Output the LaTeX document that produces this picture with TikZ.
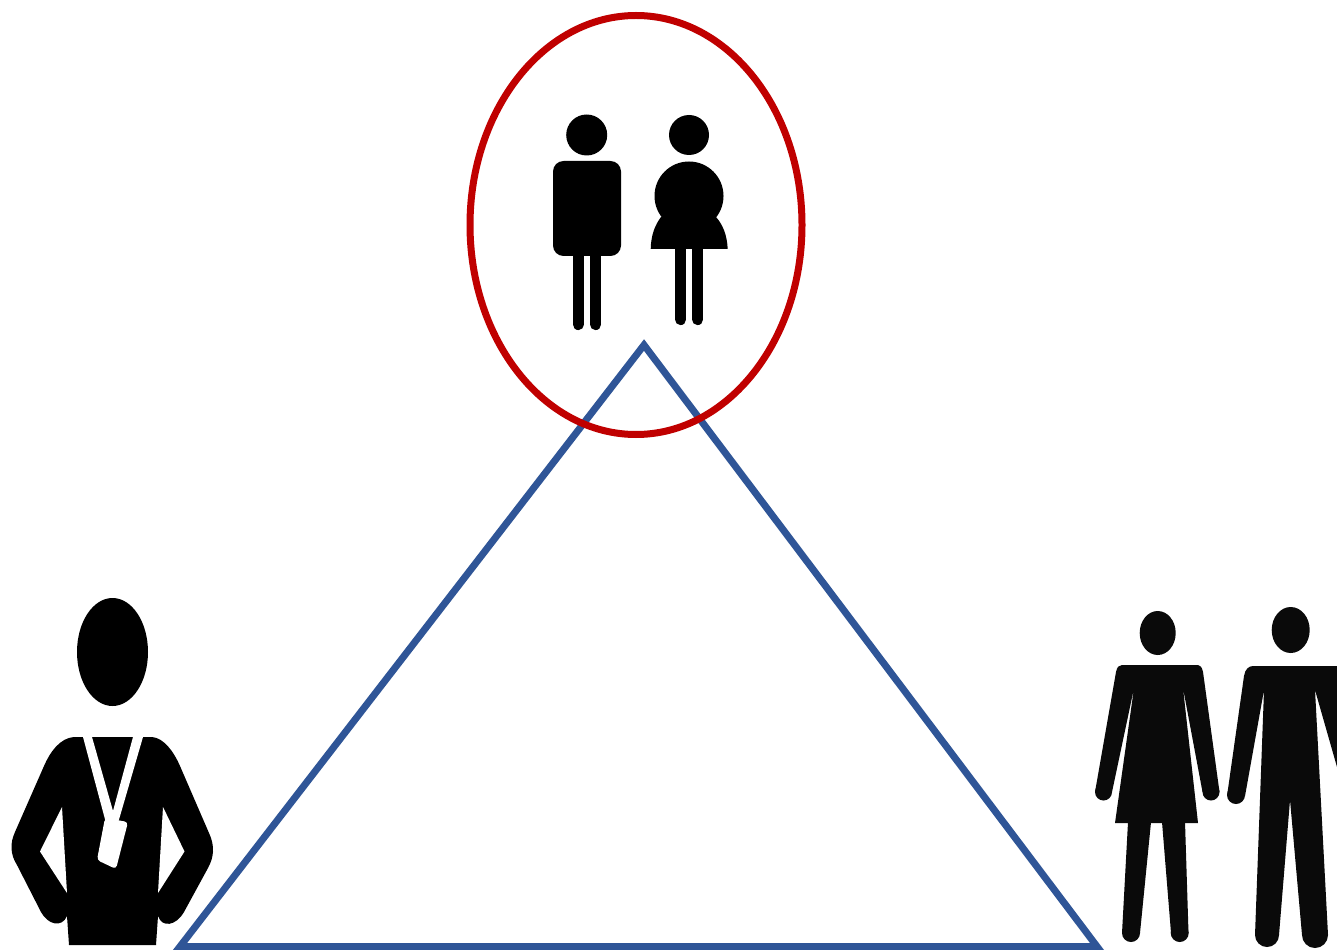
\documentclass[tikz,border=0pt]{standalone}
\usepackage{xcolor}
\definecolor{triblue}{RGB}{47,85,151}
\definecolor{ringred}{RGB}{192,0,0}
\tikzset{
    px/.style={x=0.02cm, y=-0.02cm},
    figfill/.style={fill=black, draw=none},
    softfill/.style={fill=black!96, draw=none},
    cutfill/.style={fill=white, draw=none},
    legbar/.style={draw=black, line width=0.224cm, line cap=round},
    triline/.style={draw=triblue, line width=0.14cm, miter limit=10},
    ringline/.style={draw=ringred, line width=0.14cm}
}
\begin{document}
\begin{tikzpicture}[px]
\useasboundingbox (0,0) rectangle (1337,949);
\clip (0,0) rectangle (1337,949);
\fill[white] (0,0) rectangle (1337,949);

% ── Triangle ──────────────────────────────────────────────────────────
\draw[triline] (644,345) -- (1097,946.5) -- (180,946.5) -- cycle;

% ── Ring around the top pair ──────────────────────────────────────────
\draw[ringline] (636,225) ellipse [x radius=166, y radius=209.5];

% ── Top pair: man ─────────────────────────────────────────────────────
\fill[figfill] (586.7,135) circle [radius=20.5];
\fill[figfill, rounded corners=6] (553,161) rectangle (621,256);
\draw[legbar] (578.3,250) -- (578.3,324.5);
\draw[legbar] (595.6,250) -- (595.6,324.5);

% ── Top pair: woman ───────────────────────────────────────────────────
\fill[figfill] (689,135) circle [radius=20];
\fill[figfill] (689,196) circle [radius=34.5];
\fill[figfill] (650.7,249) .. controls (651,235) and (655,225) .. (661,217)
    -- (716,217) .. controls (723,225) and (727,235) .. (727.7,249) -- cycle;
\draw[legbar] (680.6,245) -- (680.6,319.5);
\draw[legbar] (697.6,245) -- (697.6,319.5);

% ── Left figure with badge ────────────────────────────────────────────
\fill[figfill] (112.5,652) ellipse [x radius=35.5, y radius=54];
\fill[figfill] (83,737) -- (74,737) .. controls (60,738) and (50,752) .. (44,766)
    -- (15,832) .. controls (10,843) and (10,854) .. (17,865)
    -- (41,912) .. controls (48,925) and (62,928) .. (67,916)
    -- (69,945) -- (156,945) -- (158,916)
    .. controls (162,928) and (176,926) .. (184,912)
    -- (208,868) .. controls (214,857) and (215,846) .. (209,833)
    -- (180,766) .. controls (174,752) and (164,738) .. (152,737) -- (143,737) -- cycle;
\fill[cutfill] (62,807) -- (40,851.5) -- (67,893) -- cycle;
\fill[cutfill] (163,807) -- (184.5,851.5) -- (158,893) -- cycle;
% lanyard and badge
\fill[cutfill] (83,737) -- (92,737) -- (113,811) -- (133,737) -- (143,737)
    -- (118,823) -- (106,823) -- cycle;
\fill[cutfill, rounded corners=2] (105,818) -- (128,822) -- (116,869) -- (97,860) -- cycle;

% ── Right pair: woman ─────────────────────────────────────────────────
\fill[softfill] (1157.7,633) ellipse [x radius=18, y radius=22];
\fill[softfill] (1103.5,792) circle [radius=8.5];
\fill[softfill] (1211,792) circle [radius=8.5];
\fill[softfill] (1122,665) -- (1198,665) .. controls (1200,665) and (1202,667) .. (1203,672)
    -- (1219.5,792) -- (1202.5,792) -- (1183,688) -- (1198,823) -- (1115,823)
    -- (1134,688) -- (1112,792) -- (1095,792) -- (1116,672)
    .. controls (1117,667) and (1119,665) .. (1122,665) -- cycle;
\fill[softfill] (1128,822) -- (1151,822) -- (1140,933) -- (1122,933) -- cycle;
\fill[softfill] (1131,933) circle [radius=9];
\fill[softfill] (1162,822) -- (1185,822) -- (1188.5,933) -- (1171,933) -- cycle;
\fill[softfill] (1179.7,933) circle [radius=9];

% ── Right pair: man ───────────────────────────────────────────────────
\fill[softfill] (1290.7,630) ellipse [x radius=19, y radius=23];
\fill[softfill] (1236,795) circle [radius=9];
\fill[softfill] (1253,666) -- (1345,666) -- (1345,795) -- (1315,690) -- (1328,935)
    -- (1302,935) -- (1290,800) -- (1279,935) -- (1255,935) -- (1264,690)
    -- (1245,796) -- (1227,796) -- (1244,676) .. controls (1245,669) and (1249,666) .. (1253,666) -- cycle;
\fill[softfill] (1267,935) circle [radius=12];
\fill[softfill] (1315,935) circle [radius=13];
\end{tikzpicture}
\end{document}
